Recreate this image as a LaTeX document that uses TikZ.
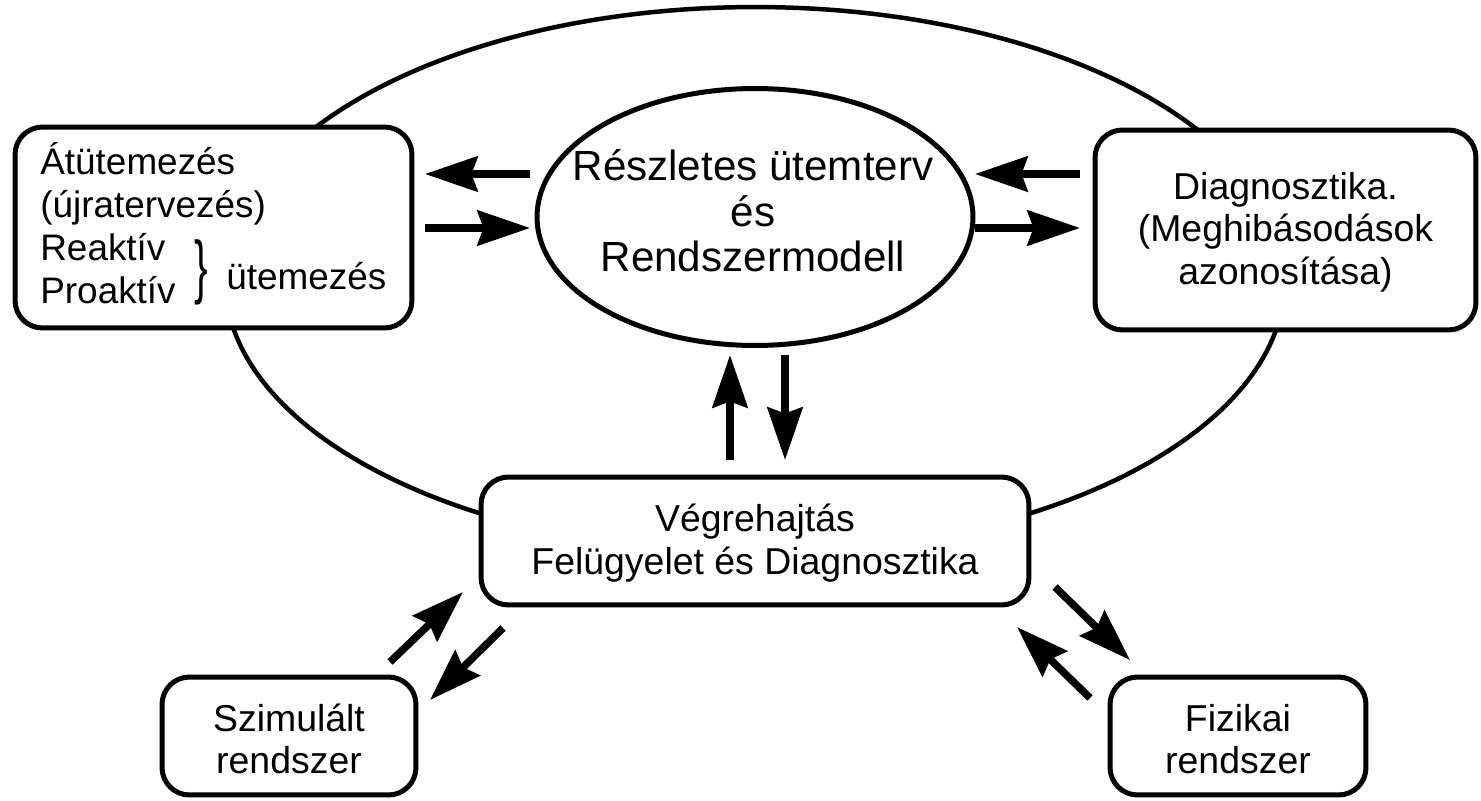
\documentclass[tikz,border=0pt]{standalone}
\usepackage{fontspec}
\setmainfont{Liberation Sans}
\usetikzlibrary{shapes.geometric,arrows.meta}
\tikzset{
	box/.style={draw, line width=0.1cm, rounded corners=0.55cm, fill=white},
	txt/.style={align=center, inner sep=0pt, font=\fontsize{21.3}{24.2}\selectfont},
	arr/.style={line width=0.15cm, -{Stealth[length=1.05cm,width=0.7cm,inset=0.12cm]}}
}

\begin{document}
\begin{tikzpicture}[x=0.02cm,y=-0.02cm]
	\useasboundingbox (0,0) rectangle (1481,801);
	\draw[line width=0.09cm] (755,280) ellipse [x radius=10.6cm, y radius=5.46cm];

	\node[box, minimum width=7.94cm, minimum height=4.02cm] (At) at (213.5,227.5) {};
	\node[txt, align=left, anchor=west, font=\fontsize{21}{24.4}\selectfont] (Att) at (40,223)
		{Átütemezés\\(újratervezés)\\Reaktív\\Proaktív};
	\node[txt, font=\fontsize{21}{24.4}\selectfont] (br) at (201,272) {\scalebox{1.1}[1.9]{\}}};
	\node[txt, anchor=west, font=\fontsize{21}{24.4}\selectfont] (Ut) at (226,276) {ütemezés};

	\node[draw, ellipse, line width=0.1cm, fill=white, minimum width=8.72cm, minimum height=5.14cm] (RU) at (755,217) {};
	\node[txt, font=\fontsize{24}{25.8}\selectfont] (RUt) at (753,211) {Részletes ütemterv\\és\\Rendszermodell};

	\node[box, minimum width=7.62cm, minimum height=4cm] (Dg) at (1285.5,230) {};
	\node[txt] (Dgt) at ([yshift=-0.04cm]Dg.center) {Diagnosztika.\\(Meghibásodások\\azonosítása)};

	\node[box, minimum width=10.96cm, minimum height=2.56cm] (Vg) at (755,541) {};
	\node[txt] (Vgt) at ([yshift=-0.04cm]Vg.center) {Végrehajtás\\Felügyelet és Diagnosztika};

	\node[box, minimum width=5.08cm, minimum height=2.36cm] (Sz) at (289,736) {};
	\node[txt] (Szt) at ([yshift=-0.06cm]Sz.center) {Szimulált\\rendszer};

	\node[box, minimum width=5.12cm, minimum height=2.36cm] (Fz) at (1238,736) {};
	\node[txt] (Fzt) at ([yshift=-0.06cm]Fz.center) {Fizikai\\rendszer};

	\coordinate (a1) at (530,174);
	\coordinate (a2) at (425,174);
	\coordinate (a3) at (425,228);
	\coordinate (a4) at (530,228);
	\coordinate (b1) at (1080,174);
	\coordinate (b2) at (975,174);
	\coordinate (b3) at (975,228);
	\coordinate (b4) at (1080,228);
	\coordinate (c1) at (730,460);
	\coordinate (c2) at (730,355);
	\coordinate (c3) at (785,355);
	\coordinate (c4) at (785,460);
	\coordinate (d1) at (390,662);
	\coordinate (d2) at (463,592);
	\coordinate (d3) at (503,628);
	\coordinate (d4) at (430,700);
	\coordinate (e1) at (1055,587);
	\coordinate (e2) at (1130,660);
	\coordinate (e3) at (1090,698);
	\coordinate (e4) at (1017,627);

	\draw[arr] (a1) -- (a2);
	\draw[arr] (a3) -- (a4);
	\draw[arr] (b1) -- (b2);
	\draw[arr] (b3) -- (b4);
	\draw[arr] (c1) -- (c2);
	\draw[arr] (c3) -- (c4);
	\draw[arr] (d1) -- (d2);
	\draw[arr] (d3) -- (d4);
	\draw[arr] (e1) -- (e2);
	\draw[arr] (e3) -- (e4);

\end{tikzpicture}
\end{document}
